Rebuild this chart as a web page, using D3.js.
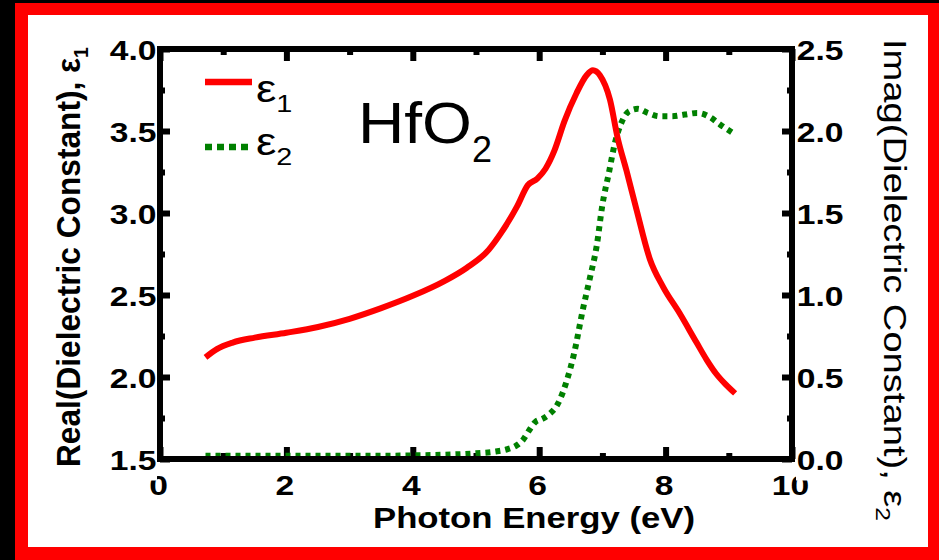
<!DOCTYPE html>
<html>
<head>
<meta charset="utf-8">
<script src="https://cdn.jsdelivr.net/npm/d3@7"></script>
<style>
  html, body { margin: 0; padding: 0; background: #000; }
  svg { display: block; }
</style>
</head>
<body>
<svg id="chart" width="939" height="560"></svg>
<script>
// Real part of the dielectric function of HfO2 (left axis)
const energy1 = [0.72, 0.9, 1.15, 1.5, 2.0, 2.5, 3.0, 3.5, 4.0, 4.5, 4.85, 5.2, 5.4, 5.65, 5.82, 5.97, 6.1, 6.24, 6.4, 6.59, 6.75, 6.85, 6.96, 7.12, 7.24, 7.38, 7.54, 7.75, 7.96, 8.22, 8.49, 8.65, 8.8, 8.95, 9.1];
const eps1 = [2.12, 2.17, 2.21, 2.24, 2.27, 2.305, 2.355, 2.42, 2.495, 2.585, 2.665, 2.775, 2.88, 3.04, 3.17, 3.21, 3.27, 3.38, 3.56, 3.73, 3.84, 3.87, 3.84, 3.69, 3.46, 3.26, 3.02, 2.72, 2.55, 2.39, 2.21, 2.105, 2.02, 1.955, 1.90];

// Imaginary part (right axis)
const energy2 = [0.72, 1.5, 2.5, 3.5, 4.0, 4.5, 5.0, 5.3, 5.5, 5.65, 5.75, 5.85, 5.95, 6.05, 6.15, 6.3, 6.43, 6.55, 6.69, 6.8, 6.91, 7.0, 7.1, 7.2, 7.3, 7.42, 7.56, 7.72, 7.9, 8.1, 8.3, 8.5, 8.7, 8.86, 9.1];
const eps2 = [0.02, 0.02, 0.02, 0.02, 0.022, 0.026, 0.035, 0.045, 0.06, 0.085, 0.12, 0.18, 0.23, 0.245, 0.27, 0.34, 0.47, 0.64, 0.91, 1.10, 1.30, 1.55, 1.74, 1.93, 2.05, 2.12, 2.135, 2.11, 2.09, 2.09, 2.10, 2.11, 2.085, 2.04, 1.98];

// Tick values
const xTicks = [0, 2, 4, 6, 8, 10];
const xMinor = [1, 3, 5, 7, 9];
const leftTicks = [1.5, 2.0, 2.5, 3.0, 3.5, 4.0];
const leftMinor = [1.75, 2.25, 2.75, 3.25, 3.75];
const rightTicks = [0, 0.5, 1.0, 1.5, 2.0, 2.5];
const rightMinor = [0.25, 0.75, 1.25, 1.75, 2.25];

// Text
const xTitle = "Photon Energy (eV)";
const leftTitle = "Real(Dielectric Constant), \u03b5";
const rightTitle = "Imag(Dielectric Constant), \u03b5";
const seriesSub = ["1", "2"];
const material = ["HfO", "2"];

const RED = "#ff0000";
const GREEN = "#008000";
const FONT = "'Liberation Sans', Arial, Helvetica, sans-serif";

const svg = d3.select("#chart");

// Red frame on black, white panel
svg.append("rect").attr("x", 15).attr("y", 3).attr("width", 924).attr("height", 557).attr("fill", RED);
svg.append("rect").attr("x", 28).attr("y", 15).attr("width", 900).attr("height", 532).attr("fill", "#fff");

const m = { l: 160, r: 792, t: 49, b: 459 };
const x = d3.scaleLinear().domain([0, 10]).range([m.l, m.r]);
const yL = d3.scaleLinear().domain([1.5, 4.0]).range([m.b, m.t]);
const yR = d3.scaleLinear().domain([0, 2.5]).range([m.b, m.t]);

function styleTicks(g) {
  g.select(".domain").remove();
  g.selectAll(".tick line").attr("stroke", "#000").attr("stroke-width", 6);
}
function styleLabels(sel) {
  sel.attr("font-family", FONT).attr("font-size", 28).attr("font-weight", "bold").attr("fill", "#000");
}

// Bottom axis
const gB = svg.append("g").attr("transform", `translate(0,${m.b})`)
  .call(d3.axisBottom(x).tickValues(xTicks).tickSize(-12).tickFormat(d3.format("d")));
styleTicks(gB);
gB.selectAll("text").attr("y", 16).attr("dy", "0.71em").attr("transform", "translate(-2,0) scale(1.2,1)").call(styleLabels);
const gBm = svg.append("g").attr("transform", `translate(0,${m.b})`)
  .call(d3.axisBottom(x).tickValues(xMinor).tickSize(-6).tickFormat(""));
styleTicks(gBm);

// Top axis
const gT = svg.append("g").attr("transform", `translate(0,${m.t})`)
  .call(d3.axisTop(x).tickValues(xTicks).tickSize(-12).tickFormat(""));
styleTicks(gT);
const gTm = svg.append("g").attr("transform", `translate(0,${m.t})`)
  .call(d3.axisTop(x).tickValues(xMinor).tickSize(-6).tickFormat(""));
styleTicks(gTm);

// Left axis
const gL = svg.append("g").attr("transform", `translate(${m.l},0)`)
  .call(d3.axisLeft(yL).tickValues(leftTicks).tickSize(-10).tickPadding(3).tickFormat(d3.format(".1f")));
styleTicks(gL);
gL.selectAll(".tick").insert("rect", "text").attr("x", -50).attr("y", -16).attr("width", 47).attr("height", 37).attr("fill", "#fff");
gL.selectAll("text").attr("dy", "0.36em").attr("transform", "scale(1.2,1)").call(styleLabels);
const gLm = svg.append("g").attr("transform", `translate(${m.l},0)`)
  .call(d3.axisLeft(yL).tickValues(leftMinor).tickSize(-5).tickFormat(""));
styleTicks(gLm);

// Right axis
const gR = svg.append("g").attr("transform", `translate(${m.r},0)`)
  .call(d3.axisRight(yR).tickValues(rightTicks).tickSize(-10).tickPadding(4).tickFormat(d3.format(".1f")));
styleTicks(gR);
gR.selectAll(".tick").insert("rect", "text").attr("x", 4).attr("y", -16).attr("width", 50).attr("height", 37).attr("fill", "#fff");
gR.selectAll("text").attr("dy", "0.36em").attr("transform", "scale(1.2,1)").call(styleLabels);
const gRm = svg.append("g").attr("transform", `translate(${m.r},0)`)
  .call(d3.axisRight(yR).tickValues(rightMinor).tickSize(-5).tickFormat(""));
styleTicks(gRm);

// Curves
const line1 = d3.line()
  .x((d, i) => x(energy1[i]))
  .y(d => yL(d))
  .curve(d3.curveMonotoneX);
const line2 = d3.line()
  .x((d, i) => x(energy2[i]))
  .y(d => yR(d))
  .curve(d3.curveMonotoneX);

svg.append("path").datum(eps2).attr("d", line2)
  .attr("fill", "none").attr("stroke", GREEN).attr("stroke-width", 6)
  .attr("stroke-dasharray", "5,5");
svg.append("path").datum(eps1).attr("d", line1)
  .attr("fill", "none").attr("stroke", RED).attr("stroke-width", 6)
  .attr("stroke-linejoin", "round");

// Plot frame
svg.append("rect").attr("x", m.l).attr("y", m.t).attr("width", m.r - m.l).attr("height", m.b - m.t)
  .attr("fill", "none").attr("stroke", "#000").attr("stroke-width", 6);

// Legend
const legend = svg.append("g");
legend.append("line").attr("x1", 205).attr("x2", 252).attr("y1", 82).attr("y2", 82)
  .attr("stroke", RED).attr("stroke-width", 6.5);
legend.append("line").attr("x1", 205).attr("x2", 249).attr("y1", 147).attr("y2", 147)
  .attr("stroke", GREEN).attr("stroke-width", 6.5).attr("stroke-dasharray", "7,5");
[[102, 0], [155, 1]].forEach(([yb, k]) => {
  const t = legend.append("text").attr("transform", `translate(256,${yb}) scale(1.2,1)`)
    .attr("font-family", FONT).attr("font-size", 38).attr("fill", "#000");
  t.append("tspan").text("\u03b5");
  t.append("tspan").attr("font-size", 24).attr("dy", 10).text(seriesSub[k]);
});

// Material label
const mat = svg.append("text").attr("x", 358).attr("y", 143)
  .attr("font-family", FONT).attr("font-size", 57).attr("fill", "#000");
mat.append("tspan").attr("textLength", 114).attr("lengthAdjust", "spacingAndGlyphs").text(material[0]);
mat.append("tspan").attr("x", 472).attr("y", 162).attr("font-size", 36).text(material[1]);

// Axis titles
svg.append("text").attr("x", 534).attr("y", 528).attr("text-anchor", "middle")
  .attr("font-family", FONT).attr("font-size", 30).attr("font-weight", "bold").attr("fill", "#000")
  .attr("textLength", 322).attr("lengthAdjust", "spacingAndGlyphs")
  .text(xTitle);

const lt = svg.append("text").attr("transform", "translate(80,257) scale(1.15,1) rotate(-90)")
  .attr("text-anchor", "middle")
  .attr("font-family", FONT).attr("font-size", 29).attr("font-weight", "bold").attr("fill", "#000")
  .attr("textLength", 420).attr("lengthAdjust", "spacingAndGlyphs");
lt.append("tspan").text(leftTitle);
lt.append("tspan").attr("font-size", 18).attr("dy", 7).text(seriesSub[0]);

const rt = svg.append("text").attr("transform", "translate(884,280) scale(1.15,1) rotate(90)")
  .attr("text-anchor", "middle")
  .attr("font-family", FONT).attr("font-size", 28).attr("fill", "#000")
  .attr("textLength", 482).attr("lengthAdjust", "spacingAndGlyphs");
rt.append("tspan").text(rightTitle);
rt.append("tspan").attr("font-size", 18).attr("dy", 7).text(seriesSub[1]);
</script>
</body>
</html>
